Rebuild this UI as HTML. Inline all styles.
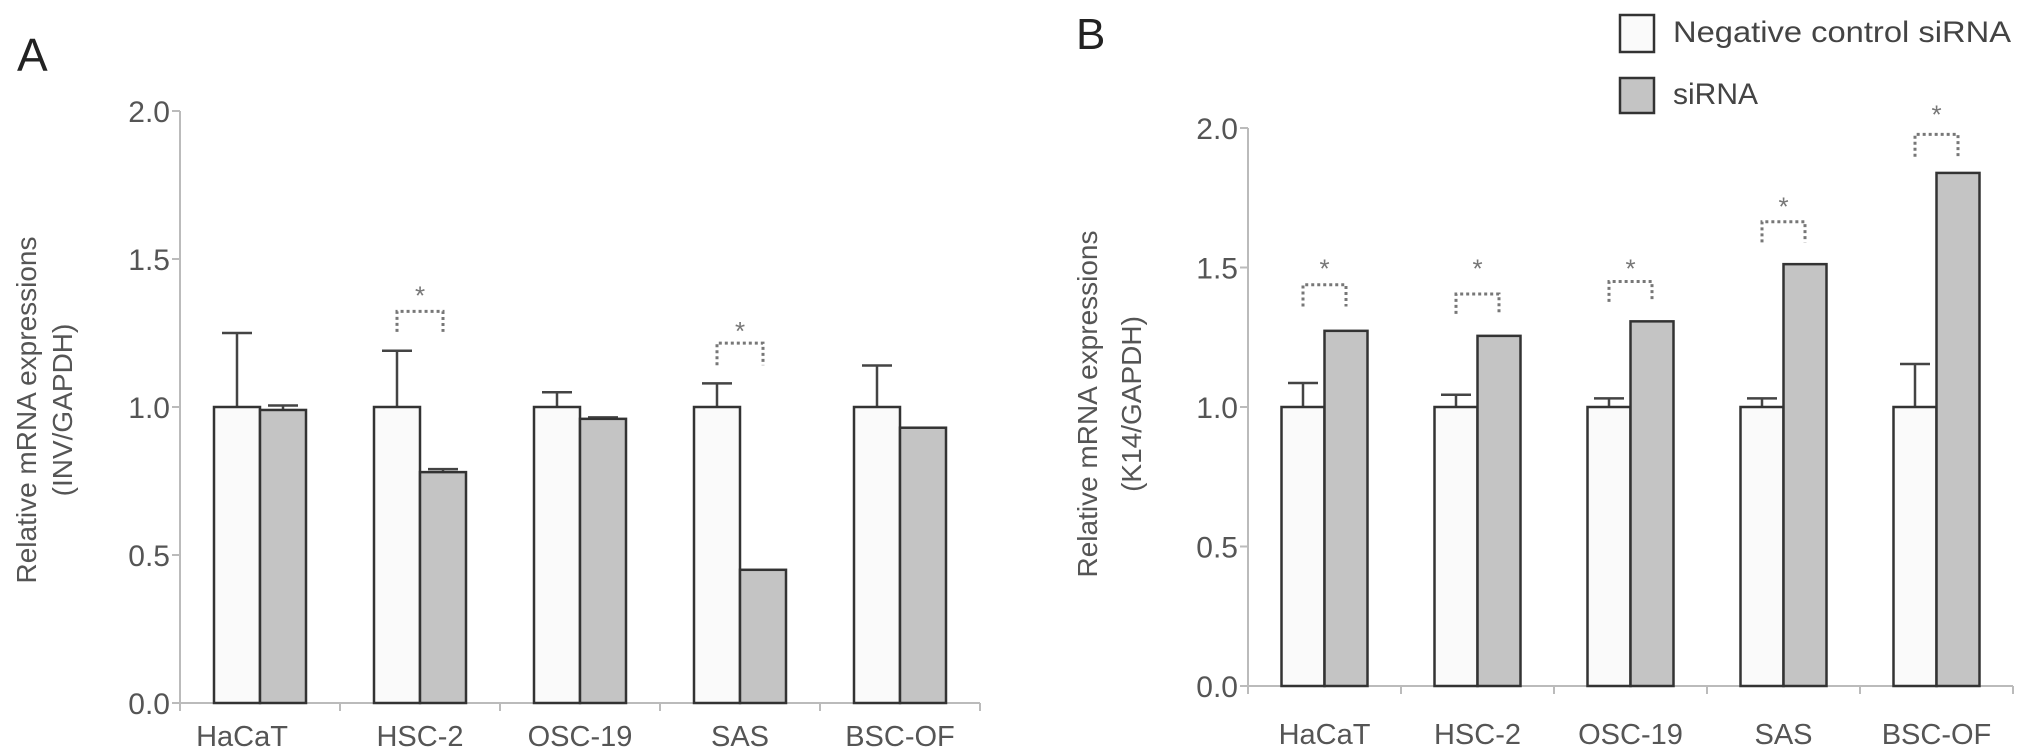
<!DOCTYPE html>
<html><head><meta charset="utf-8"><style>
html,body{margin:0;padding:0;background:#fff;}
svg{display:block;font-family:"Liberation Sans",sans-serif;}
</style></head><body>
<svg id="c" width="2031" height="748" viewBox="0 0 2031 748" xmlns="http://www.w3.org/2000/svg">
<text x="17" y="71" font-size="46" fill="#222">A</text>
<text x="1076" y="49" font-size="44" fill="#222">B</text>
<g>
<rect x="1620" y="15" width="34" height="37" fill="#fafafa" stroke="#333" stroke-width="2.5"/>
<text x="1673" y="42" font-size="30" fill="#444" textLength="338" lengthAdjust="spacingAndGlyphs">Negative control siRNA</text>
<rect x="1620" y="78" width="34" height="35" fill="#c4c4c4" stroke="#333" stroke-width="2.5"/>
<text x="1673" y="104" font-size="30" fill="#444">siRNA</text>
</g>
<g id="pa"></g>
<g id="pb"></g>
</svg>
<script>
const categories = ["HaCaT","HSC-2","OSC-19","SAS","BSC-OF"];
const yTicks = [0.0,0.5,1.0,1.5,2.0];
const yTickLabels = ["0.0","0.5","1.0","1.5","2.0"];
// Panel A (INV)
const aControl = [1,1,1,1,1];
const aControlErr = [1.25,1.19,1.05,1.08,1.14];
const aSirna = [0.99,0.78,0.96,0.45,0.93];
const aSirnaErr = [1.005,0.79,0.965,0.45,0.93];
const aSig = [null,{top:1.323,leg:1.254,star:1.394},null,{top:1.216,leg:1.141,star:1.274},null];
// Panel B (K14)
const bControl = [1,1,1,1,1];
const bControlErr = [1.086,1.044,1.031,1.031,1.154];
const bSirna = [1.273,1.255,1.307,1.512,1.839];
const bSirnaErr = [1.273,1.255,1.307,1.512,1.839];
const bSig = [{top:1.438,leg:1.36,star:1.515},{top:1.405,leg:1.334,star:1.515},{top:1.45,leg:1.377,star:1.515},{top:1.664,leg:1.59,star:1.737},{top:1.977,leg:1.897,star:2.066}];

const NS="http://www.w3.org/2000/svg";
function mk(parent,tag,attrs,text){const e=document.createElementNS(NS,tag);for(const k in attrs)e.setAttribute(k,attrs[k]);if(text!==undefined)e.textContent=text;parent.appendChild(e);return e;}

function draw(g,cfg){
  const y=v=>cfg.y0-(v/2)*(cfg.y0-cfg.y2);
  const step=cfg.step, bw=cfg.bw;
  const cx=i=>cfg.x0+step*(i+0.5);
  const axc="#bbb";
  let e=mk(g,"line",{x1:cfg.x0,y1:y(2),x2:cfg.x0,y2:cfg.y0+8,stroke:axc,"stroke-width":2});
  
  
  e=mk(g,"line",{x1:cfg.x0,y1:cfg.y0,x2:cfg.x0+step*categories.length,y2:cfg.y0,stroke:axc,"stroke-width":2});
  
  
  for(let i=1;i<=categories.length;i++){
    e=mk(g,"line",{x1:cfg.x0+step*i,y1:cfg.y0,x2:cfg.x0+step*i,y2:cfg.y0+8,stroke:axc,"stroke-width":2});
    
    
  }
  yTicks.forEach((t,i)=>{
    e=mk(g,"line",{x1:cfg.x0-8,y1:y(t),x2:cfg.x0,y2:y(t),stroke:axc,"stroke-width":2});
    
    
    e=mk(g,"text",{x:cfg.x0-10,y:y(t)+11,"font-size":30,fill:"#555","text-anchor":"end"},yTickLabels[i]);
    
    
  });
  categories.forEach((c,i)=>{
    e=mk(g,"text",{x:cx(i)+(i===0?cfg.firstShift:0),y:cfg.labY,"font-size":29,fill:"#555","text-anchor":"middle"},c);
    
    
    const xc=cx(i)-bw, xs=cx(i);
    [[xc,cfg.ctrl[i],cfg.ctrlErr[i]],[xs,cfg.sir[i],cfg.sirErr[i]]].forEach(([bx,v,ev])=>{
      if(ev>v+0.001){
        const m=bx+bw/2;
        e=mk(g,"path",{d:`M${m},${y(v)} V${y(ev)} M${m-15},${y(ev)} H${m+15}`,stroke:"#444","stroke-width":2.5,fill:"none"});
        
        
      }
    });
    e=mk(g,"rect",{x:xc,y:y(cfg.ctrl[i]),width:bw,height:cfg.y0-y(cfg.ctrl[i]),fill:"#fafafa",stroke:"#333","stroke-width":2.5});
    
    
    e=mk(g,"rect",{x:xs,y:y(cfg.sir[i]),width:bw,height:cfg.y0-y(cfg.sir[i]),fill:"#c4c4c4",stroke:"#333","stroke-width":2.5});
    
    
    const s=cfg.sig[i];
    if(s){
      const l=xc+bw/2, r=xs+bw/2;
      e=mk(g,"path",{d:`M${l},${y(s.leg)} V${y(s.top)} H${r} V${y(s.leg)}`,stroke:"#777","stroke-width":3,fill:"none","stroke-dasharray":"3,3"});
      
      
      e=mk(g,"text",{x:(l+r)/2,y:y(s.star)+14,"font-size":26,fill:"#777","text-anchor":"middle"},"*");
      
      
    }
  });
  e=mk(g,"text",{transform:`translate(${cfg.tx1},${cfg.ty}) rotate(-90)`,"font-size":28,fill:"#555","text-anchor":"middle"},"Relative mRNA expressions");
  
  
  e=mk(g,"text",{transform:`translate(${cfg.tx2},${cfg.ty}) rotate(-90)`,"font-size":28,fill:"#555","text-anchor":"middle"},cfg.sub);
  
  
}
draw(document.getElementById('pa'),{x0:180,y0:703,y2:111,step:160,bw:46,labY:746,firstShift:-18,ctrl:aControl,ctrlErr:aControlErr,sir:aSirna,sirErr:aSirnaErr,sig:aSig,tx1:36,tx2:72,ty:410,sub:"(INV/GAPDH)"});
draw(document.getElementById('pb'),{x0:1248,y0:686,y2:128,step:153,bw:43,labY:744,firstShift:0,ctrl:bControl,ctrlErr:bControlErr,sir:bSirna,sirErr:bSirnaErr,sig:bSig,tx1:1097,tx2:1141,ty:404,sub:"(K14/GAPDH)"});
</script>
</body></html>
